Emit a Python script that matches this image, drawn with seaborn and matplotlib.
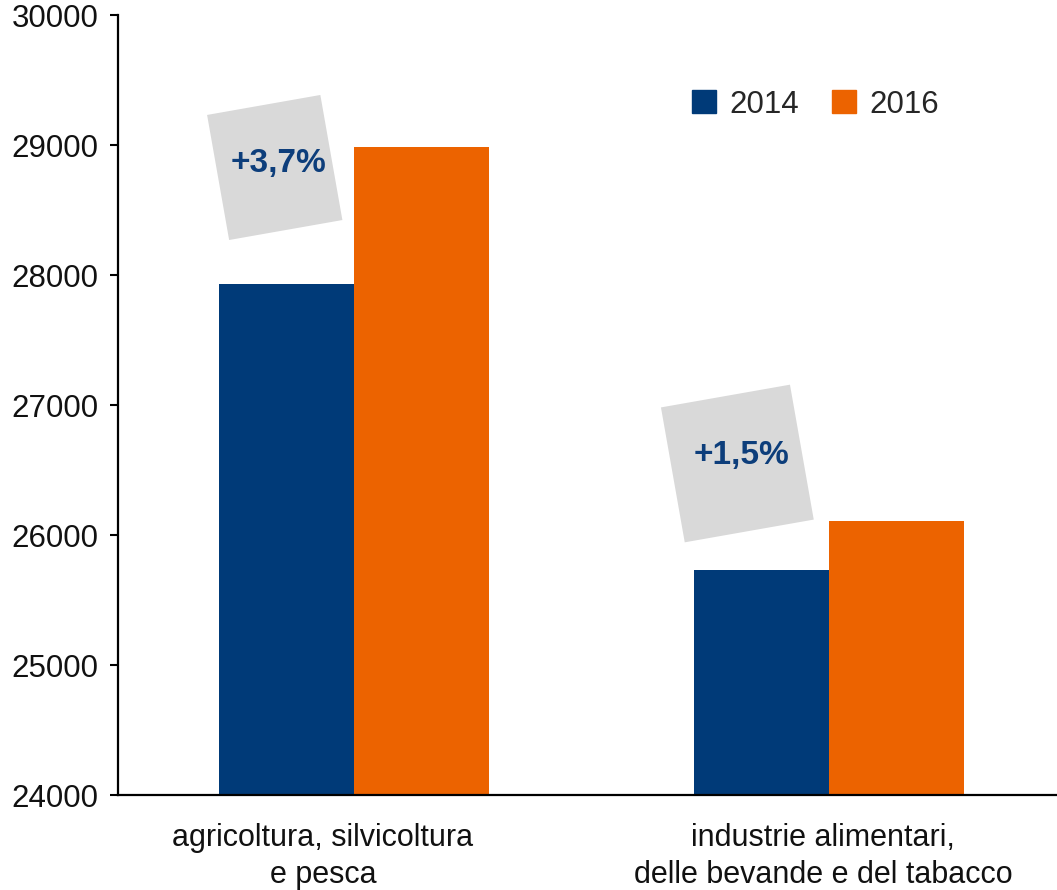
import matplotlib
matplotlib.use("Agg")
import matplotlib.pyplot as plt
import matplotlib.patches as mpatches
from matplotlib.transforms import Affine2D, ScaledTranslation
import seaborn as sns
import pandas as pd

# data
settori = ["agricoltura, silvicoltura\ne pesca",
           "industrie alimentari,\ndelle bevande e del tabacco"]
anni = ["2014", "2016"]
valori_2014 = [27930, 25730]
valori_2016 = [28985, 26110]
variazioni = ["+3,7%", "+1,5%"]

# annotation placement (data coords): box centre and text centre
box_x = [-0.167, 0.807]
box_y = [28827, 26550]
box_size_px = [(115, 127), (131, 137)]
txt_x = [-0.16, 0.816]
txt_y = [28855, 26610]

blue = "#003A78"
orange = "#EC6300"
grey = "#D9D9D9"
txt_blue = "#0D3E7B"

df = pd.DataFrame({
    "settore": settori * 2,
    "anno": [anni[0]] * 2 + [anni[1]] * 2,
    "valore": valori_2014 + valori_2016,
})

sns.set_style("white")
plt.rcParams["font.family"] = ["Liberation Sans", "DejaVu Sans"]

fig = plt.figure(figsize=(10.57, 8.90), dpi=100)
ax = fig.add_axes([118 / 1057, 1 - 795 / 890, 1 - 118 / 1057, (795 - 15) / 890])

sns.barplot(data=df, x="settore", y="valore", hue="anno", hue_order=anni,
            palette=[blue, orange], saturation=1, width=0.568, gap=0,
            linewidth=0, errorbar=None, ax=ax)

ax.set_ylim(24000, 30000)
ax.set_xlim(-0.497, 1.48)
ax.set_yticks(range(24000, 30001, 1000))
ax.set_xlabel("")
ax.set_ylabel("")

sns.despine(ax=ax, top=True, right=True)
ax.spines["left"].set_linewidth(1.6)
ax.spines["bottom"].set_linewidth(1.6)
ax.spines["left"].set_color("black")
ax.spines["bottom"].set_color("black")

ax.tick_params(axis="y", direction="out", length=6, width=1.5, color="black",
               pad=8, labelsize=22.5, labelcolor="#111111", left=True)
ax.tick_params(axis="x", length=0, pad=20, labelsize=22, labelcolor="#111111")
ax.set_xticks([0, 1], labels=settori)

# labels in the reference sit a bit left of the bar group centres
offsets_px = [-31, -6]
for lab, dx in zip(ax.get_xticklabels(), offsets_px):
    lab.set_linespacing(1.3)
    lab.set_transform(lab.get_transform() + ScaledTranslation(dx / 100, 0, fig.dpi_scale_trans))

# legend
handles = [mpatches.Patch(color=blue, label=anni[0]),
           mpatches.Patch(color=orange, label=anni[1])]
ax.legend(handles=handles, loc="center", bbox_to_anchor=(0.743, 0.885),
          ncol=2, frameon=False, fontsize=22.5, handlelength=0.75,
          handleheight=0.75, handletextpad=0.45, columnspacing=1.05)

# rotated grey boxes with the change labels
fig.canvas.draw()
for bx, by, (w, h) in zip(box_x, box_y, box_size_px):
    cx, cy = ax.transData.transform((bx, by))
    rect = mpatches.Rectangle((cx - w / 2, cy - h / 2), w, h,
                              facecolor=grey, edgecolor="none",
                              transform=Affine2D().rotate_deg_around(cx, cy, 10),
                              clip_on=False, zorder=3)
    ax.add_artist(rect)

for tx, ty, s in zip(txt_x, txt_y, variazioni):
    ax.text(tx, ty, s, ha="center", va="center", fontsize=24,
            fontweight="bold", color=txt_blue, zorder=5)

fig.savefig("out.png", dpi=100)
